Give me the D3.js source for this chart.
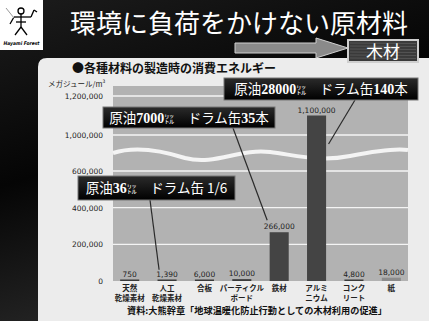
<!DOCTYPE html>
<html>
<head>
<meta charset="utf-8">
<script src="https://cdn.jsdelivr.net/npm/d3@7"></script>
<style>
  body { margin: 0; background: #000; }
  svg { display: block; }
  text { font-family: "Noto Sans CJK JP", "Noto Sans", sans-serif; }
</style>
</head>
<body>
<svg class="slide" width="429" height="321"></svg>
<script>
// data
const categories = ["天然乾燥素材", "人工乾燥素材", "合板", "パーティクルボード", "鉄材", "アルミニウム", "コンクリート", "紙"]
const labelLines = [["天然", "乾燥素材"], ["人工", "乾燥素材"], ["合板"], ["パーティクル", "ボード"], ["鉄材"], ["アルミ", "ニウム"], ["コンク", "リート"], ["紙"]]
const energy = [750, 1390, 6000, 10000, 266000, 1100000, 4800, 18000]
const barColors = ["#3a3a3a", "#3a3a3a", "#3a3a3a", "#3a3a3a", "#444", "#444", "#3a3a3a", "#8c8c8c"]
const tickValues = [0, 200000, 400000, 600000, 1000000, 1200000]
const gridValues = [200000, 400000, 600000, 1000000, 1200000]

const svg = d3.select("svg.slide")
const defs = svg.append("defs")

const bg = defs.append("linearGradient").attr("id", "bg").attr("x1", 0).attr("y1", 0).attr("x2", 0.4).attr("y2", 1)
bg.append("stop").attr("offset", 0).attr("stop-color", "#1c1c1c")
bg.append("stop").attr("offset", 0.5).attr("stop-color", "#050505")
bg.append("stop").attr("offset", 1).attr("stop-color", "#2a2a2a")

const boxGrad = defs.append("linearGradient").attr("id", "boxg").attr("x1", 0).attr("y1", 0).attr("x2", 0).attr("y2", 1)
boxGrad.append("stop").attr("offset", 0).attr("stop-color", "#2b2b2b")
boxGrad.append("stop").attr("offset", 1).attr("stop-color", "#000")

// background
svg.append("rect").attr("width", 429).attr("height", 321).attr("fill", "url(#bg)")

// logo
const logo = svg.append("g")
logo.append("rect").attr("x", 0).attr("y", 0).attr("width", 43).attr("height", 50).attr("fill", "#fff")
logo.append("circle").attr("cx", 21).attr("cy", 11).attr("r", 3).attr("fill", "none").attr("stroke", "#000").attr("stroke-width", 1.3)
const stick = [[21, 14, 21, 27], [14, 17, 31, 17], [21, 27, 15, 35], [21, 27, 27, 35], [31, 17, 34, 10], [34, 10, 37, 12], [14, 17, 10, 24], [16, 22, 26, 22]]
logo.selectAll("line.stick")
  .data(stick)
  .enter()
  .append("line")
  .attr("x1", d => d[0]).attr("y1", d => d[1]).attr("x2", d => d[2]).attr("y2", d => d[3])
  .attr("stroke", "#000").attr("stroke-width", 1.3)
logo.append("line").attr("x1", 6).attr("y1", 8).attr("x2", 14).attr("y2", 18).attr("stroke", "#999").attr("stroke-width", 1)
logo.append("text").attr("x", 21.5).attr("y", 45).attr("text-anchor", "middle")
  .attr("textLength", 36).attr("lengthAdjust", "spacingAndGlyphs")
  .style("font-family", "DejaVu Sans").style("font-size", "5px").style("font-style", "italic").style("font-weight", "bold")
  .attr("fill", "#000").text("Hayami Forest")

// title
svg.append("text").attr("x", 70).attr("y", 33)
  .style("font-size", "26px").attr("fill", "#fff")
  .text("環境に負荷をかけない原材料")

// light panel
svg.append("path")
  .attr("d", "M38,67 Q38,58 47,58 L429,58 L429,321 L38,321 Z")
  .attr("fill", "#ececec")

// arrow
svg.append("polygon")
  .attr("points", "235,43 316,43 316,38 348,48 316,58 316,53 235,53")
  .attr("fill", "#8a8a8a").attr("stroke", "#d0d0d0").attr("stroke-width", 1)

// wood box
const wood = svg.append("g")
wood.append("rect").attr("x", 348).attr("y", 40).attr("width", 70).attr("height", 22)
  .attr("fill", "#3a3a3a").attr("stroke", "#cfcfcf").attr("stroke-width", 2)
wood.selectAll("line.grain")
  .data(d3.range(43, 60, 3))
  .enter()
  .append("line")
  .attr("x1", 350).attr("x2", 416).attr("y1", d => d).attr("y2", d => d + 0.5)
  .attr("stroke", "#555").attr("stroke-width", 1)
wood.append("text").attr("x", 383).attr("y", 58).attr("text-anchor", "middle")
  .style("font-size", "17px").attr("fill", "#fff").text("木材")

// subheading
svg.append("text").attr("x", 72).attr("y", 73)
  .style("font-size", "12px").style("font-weight", "bold").attr("fill", "#111")
  .text("●各種材料の製造時の消費エネルギー")

// scales (broken axis between 600,000 and 1,000,000)
const y = d3.scaleLinear()
  .domain([0, 600000, 1000000, 1200000])
  .range([281, 171, 135, 96])

const x = d3.scaleBand()
  .domain(categories)
  .range([111, 410])
  .paddingInner(0.49)
  .paddingOuter(0.245)

// plot area
svg.append("rect").attr("x", 113).attr("y", 86).attr("width", 295).attr("height", 195).attr("fill", "#b2b2b2")

svg.selectAll("line.grid")
  .data(gridValues)
  .enter()
  .append("line")
  .attr("x1", 113).attr("x2", 408)
  .attr("y1", d => y(d)).attr("y2", d => y(d))
  .attr("stroke", "#f4f4f4").attr("stroke-width", 1.3)

// break wave
svg.append("path")
  .attr("d", "M113,153 C135,146 160,150 185,158 C215,166 240,148 270,152 C300,156 320,162 350,156 C375,151 395,148 408,150")
  .attr("fill", "none").attr("stroke", "#f4f4f4").attr("stroke-width", 4)

// y tick labels
svg.selectAll("text.tick")
  .data(tickValues)
  .enter()
  .append("text")
  .attr("x", 103).attr("y", d => y(d) + 3)
  .attr("text-anchor", "end")
  .style("font-family", "DejaVu Sans").style("font-size", "7.5px")
  .attr("fill", "#222")
  .text(d => d3.format(",")(d))

svg.append("text").attr("x", 48).attr("y", 87)
  .style("font-size", "7.5px").attr("fill", "#222")
  .text("メガジュール/m³")

// bars
const bars = svg.selectAll("g.bar")
  .data(energy)
  .enter()
  .append("g")

bars.append("rect")
  .attr("x", (d, i) => x(categories[i]))
  .attr("width", x.bandwidth())
  .attr("y", d => Math.min(y(d), 279.5))
  .attr("height", d => Math.max(281 - y(d), 1.5))
  .attr("fill", (d, i) => barColors[i])

bars.append("text")
  .attr("x", (d, i) => x(categories[i]) + x.bandwidth() / 2)
  .attr("y", d => Math.min(y(d), 279.5) - 3)
  .attr("text-anchor", "middle")
  .style("font-family", "DejaVu Sans").style("font-size", "7.5px")
  .attr("fill", "#222")
  .text(d => d3.format(",")(d))

// category labels
const cats = svg.selectAll("text.cat")
  .data(labelLines)
  .enter()
  .append("text")
  .attr("text-anchor", "middle")
  .style("font-size", "7.5px").style("font-weight", "bold")
  .attr("fill", "#222")

cats.selectAll("tspan")
  .data((d, i) => d.map(s => ({ s: s, i: i })))
  .enter()
  .append("tspan")
  .attr("x", d => x(categories[d.i]) + x.bandwidth() / 2)
  .attr("y", (d, j) => 291 + j * 9.5)
  .text(d => d.s)

// callouts
const callouts = [
  { x: 224, y: 78, w: 194, h: 22, parts: [["原油", 0], ["28000", 1], ["㍑", 2], ["　ドラム缶", 0], ["140", 1], ["本", 0]],
    from: [355, 100], to: [categories[5], 900000, 12] },
  { x: 103, y: 107, w: 172, h: 21, parts: [["原油", 0], ["7000", 1], ["㍑", 2], ["　ドラム缶", 0], ["35", 1], ["本", 0]],
    from: [233, 128], to: [categories[4], 266000, -12, -12] },
  { x: 78, y: 176, w: 157, h: 24, parts: [["原油", 0], ["36", 1], ["㍑", 2], ["　ドラム缶 1/6", 0]],
    from: [150, 200], to: [categories[1], 1390, -8, -11] }
]

svg.selectAll("line.leader")
  .data(callouts)
  .enter()
  .append("line")
  .attr("x1", d => d.from[0]).attr("y1", d => d.from[1])
  .attr("x2", d => x(d.to[0]) + x.bandwidth() / 2 + d.to[2])
  .attr("y2", d => y(d.to[1]) + (d.to[3] || 0))
  .attr("stroke", "#2a2a2a").attr("stroke-width", 1.2)

const boxes = svg.selectAll("g.callout")
  .data(callouts)
  .enter()
  .append("g")

boxes.append("rect")
  .attr("x", d => d.x).attr("y", d => d.y)
  .attr("width", d => d.w).attr("height", d => d.h)
  .attr("fill", "url(#boxg)").attr("stroke", "#777").attr("stroke-width", 1)

const partStyle = [
  { family: "Noto Sans CJK JP", size: "13.5px", weight: "normal" },
  { family: "Liberation Serif", size: "14px", weight: "bold" },
  { family: "Noto Sans CJK JP", size: "10px", weight: "normal" }
]

boxes.append("text")
  .attr("x", d => d.x + d.w / 2)
  .attr("y", d => d.y + d.h / 2 + 5)
  .attr("text-anchor", "middle")
  .attr("fill", "#fff")
  .selectAll("tspan")
  .data(d => d.parts)
  .enter()
  .append("tspan")
  .style("font-family", p => partStyle[p[1]].family)
  .style("font-size", p => partStyle[p[1]].size)
  .style("font-weight", p => partStyle[p[1]].weight)
  .text(p => p[0])

// source
svg.append("text").attr("x", 127).attr("y", 314)
  .style("font-size", "9.2px").style("font-weight", "bold").attr("fill", "#111")
  .text("資料:大熊幹章「地球温暖化防止行動としての木材利用の促進」")
</script>
</body>
</html>
